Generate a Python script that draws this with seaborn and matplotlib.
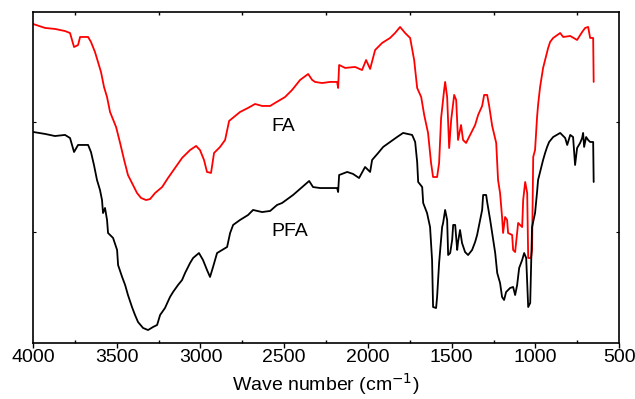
import matplotlib
matplotlib.use("Agg")
import matplotlib.pyplot as plt
from matplotlib.ticker import MultipleLocator
import pandas as pd
import seaborn as sns

# FA spectrum (wave number in cm-1, transmittance in arbitrary units)
fa_wn = [4000, 3928, 3869, 3809, 3779, 3755, 3731, 3719, 3671, 3654, 3630, 3612, 3594,
         3576, 3558, 3540, 3504, 3480, 3456, 3433, 3403, 3379, 3355, 3325, 3301, 3271,
         3229, 3194, 3152, 3110, 3062, 3026, 3003, 2979, 2961, 2937, 2919, 2883, 2853,
         2829, 2793, 2764, 2716, 2674, 2632, 2584, 2555, 2495, 2453, 2405, 2357, 2333,
         2316, 2274, 2226, 2184, 2178, 2172, 2136, 2077, 2035, 2011, 1987, 1957, 1915,
         1868, 1838, 1808, 1778, 1748, 1724, 1706, 1682, 1664, 1641, 1623, 1611, 1587,
         1575, 1563, 1545, 1539, 1527, 1515, 1503, 1485, 1473, 1462, 1444, 1432, 1414,
         1390, 1360, 1342, 1318, 1306, 1288, 1276, 1258, 1234, 1223, 1211, 1199, 1193,
         1181, 1169, 1163, 1139, 1133, 1121, 1109, 1103, 1079, 1073, 1061, 1049, 1043,
         1026, 1020, 1013, 1002, 990, 984, 972, 954, 942, 930, 924, 912, 894, 852, 834,
         792, 751, 721, 703, 685, 673, 655, 652]
fa_t = [2.891, 2.855, 2.846, 2.827, 2.809, 2.682, 2.700, 2.773, 2.773, 2.728, 2.637, 2.546,
        2.455, 2.319, 2.228, 2.092, 1.956, 1.811, 1.657, 1.520, 1.430, 1.357, 1.312, 1.293,
        1.302, 1.357, 1.411, 1.493, 1.584, 1.675, 1.747, 1.784, 1.747, 1.657, 1.548, 1.539,
        1.720, 1.775, 1.838, 2.011, 2.056, 2.092, 2.129, 2.165, 2.147, 2.147, 2.174, 2.228,
        2.292, 2.383, 2.437, 2.383, 2.365, 2.355, 2.365, 2.365, 2.310, 2.519, 2.492, 2.501,
        2.473, 2.564, 2.483, 2.655, 2.719, 2.764, 2.809, 2.864, 2.809, 2.764, 2.564, 2.310,
        2.228, 2.065, 1.902, 1.629, 1.502, 1.502, 1.629, 2.038, 2.292, 2.365, 2.228, 1.765,
        2.020, 2.247, 2.201, 1.838, 1.974, 1.838, 1.811, 1.883, 1.974, 2.065, 2.147, 2.247,
        2.247, 2.147, 1.965, 1.811, 1.475, 1.357, 1.139, 0.994, 1.139, 1.112, 0.994, 0.976,
        0.840, 0.821, 0.994, 1.085, 1.048, 1.293, 1.457, 1.357, 0.767, 0.767, 0.840, 1.684,
        1.747, 2.047, 2.156, 2.319, 2.492, 2.564, 2.637, 2.673, 2.728, 2.764, 2.809, 2.773,
        2.782, 2.746, 2.818, 2.855, 2.864, 2.764, 2.764, 2.365]

# PFA spectrum
pfa_wn = [4000, 3928, 3869, 3809, 3779, 3755, 3731, 3671, 3654, 3636, 3618, 3600, 3588,
          3582, 3570, 3558, 3552, 3522, 3498, 3492, 3468, 3450, 3433, 3409, 3391, 3373,
          3343, 3313, 3283, 3259, 3241, 3212, 3182, 3164, 3134, 3110, 3092, 3062, 3044,
          3009, 2985, 2961, 2943, 2925, 2901, 2871, 2841, 2823, 2805, 2764, 2716, 2686,
          2632, 2584, 2543, 2513, 2447, 2393, 2351, 2328, 2286, 2184, 2178, 2172, 2124,
          2089, 2053, 2017, 1987, 1975, 1939, 1909, 1868, 1826, 1790, 1736, 1718, 1706,
          1700, 1676, 1670, 1647, 1629, 1617, 1611, 1593, 1587, 1575, 1557, 1551, 1539,
          1527, 1521, 1509, 1497, 1491, 1479, 1467, 1462, 1450, 1438, 1420, 1402, 1378,
          1360, 1348, 1330, 1318, 1312, 1294, 1288, 1270, 1252, 1240, 1228, 1211, 1199,
          1187, 1175, 1151, 1133, 1121, 1109, 1097, 1079, 1067, 1055, 1043, 1031, 1020,
          1002, 990, 984, 972, 954, 942, 930, 918, 894, 852, 822, 810, 792, 775, 763, 751,
          733, 721, 715, 709, 697, 685, 673, 655, 652]
pfa_t = [1.911, 1.893, 1.874, 1.884, 1.856, 1.729, 1.793, 1.793, 1.729, 1.611, 1.475, 1.384,
         1.293, 1.175, 1.221, 1.112, 0.994, 0.949, 0.840, 0.703, 0.595, 0.522, 0.431, 0.322,
         0.250, 0.186, 0.132, 0.113, 0.141, 0.159, 0.250, 0.313, 0.413, 0.458, 0.522, 0.567,
         0.631, 0.722, 0.767, 0.812, 0.749, 0.658, 0.595, 0.685, 0.812, 0.840, 0.867, 0.994,
         1.067, 1.112, 1.157, 1.203, 1.184, 1.194, 1.248, 1.266, 1.339, 1.411, 1.466, 1.411,
         1.402, 1.402, 1.366, 1.520, 1.548, 1.530, 1.493, 1.593, 1.548, 1.657, 1.720, 1.775,
         1.820, 1.865, 1.902, 1.884, 1.820, 1.638, 1.457, 1.411, 1.266, 1.175, 1.048, 0.749,
         0.322, 0.313, 0.413, 0.722, 1.048, 1.085, 1.203, 1.112, 0.794, 0.812, 0.931, 1.067,
         1.067, 0.840, 0.912, 1.021, 0.903, 0.821, 0.794, 0.840, 0.912, 0.976, 1.112, 1.203,
         1.339, 1.339, 1.275, 1.112, 0.931, 0.812, 0.631, 0.540, 0.413, 0.386, 0.458, 0.495,
         0.504, 0.431, 0.522, 0.676, 0.749, 0.812, 0.767, 0.322, 0.359, 1.048, 1.175, 1.366,
         1.475, 1.548, 1.657, 1.720, 1.775, 1.820, 1.865, 1.902, 1.856, 1.793, 1.884, 1.865,
         1.611, 1.765, 1.811, 1.856, 1.902, 1.775, 1.865, 1.838, 1.820, 1.820, 1.457]

x_ticks = [4000, 3500, 3000, 2500, 2000, 1500, 1000, 500]

df_fa = pd.DataFrame({"wn": fa_wn, "t": fa_t})
df_pfa = pd.DataFrame({"wn": pfa_wn, "t": pfa_t})

sns.set_style("ticks")
plt.rcParams["font.family"] = ["Liberation Sans", "DejaVu Sans"]
plt.rcParams["text.color"] = "black"
plt.rcParams["axes.labelcolor"] = "black"
plt.rcParams["xtick.color"] = "black"
plt.rcParams["ytick.color"] = "black"

fig, ax = plt.subplots(figsize=(6.35, 3.99), dpi=100)
fig.subplots_adjust(left=0.052, right=0.975, bottom=0.1416, top=0.970)

sns.lineplot(data=df_fa, x="wn", y="t", color="#ff0000", linewidth=1.3,
             sort=False, estimator=None, ax=ax)
sns.lineplot(data=df_pfa, x="wn", y="t", color="black", linewidth=1.3,
             sort=False, estimator=None, ax=ax)

ax.text(2507, 1.96, "FA", fontsize=14, ha="center", va="center")
ax.text(2465, 1.01, "PFA", fontsize=14, ha="center", va="center")

ax.set_xlim(4000, 500)
ax.set_ylim(0, 3)
ax.set_xticks(x_ticks)
ax.xaxis.set_minor_locator(MultipleLocator(250))
ax.set_yticks([1, 2])
ax.set_yticklabels([])
ax.set_ylabel("")
ax.set_xlabel("Wave number (cm$^{-1}$)", fontsize=14, labelpad=3)

for s in ax.spines.values():
    s.set_visible(True)
    s.set_linewidth(1.2)
    s.set_color("black")

ax.tick_params(axis="x", which="major", direction="out", length=3.5, width=1,
               labelsize=14, pad=1.5, top=False)
ax.tick_params(axis="x", which="minor", direction="in", length=2.5, width=1,
               top=True, bottom=True)
ax.tick_params(axis="y", which="major", direction="in", length=2, width=0.8,
               left=True, right=True)

plt.savefig("out.png", dpi=100)
